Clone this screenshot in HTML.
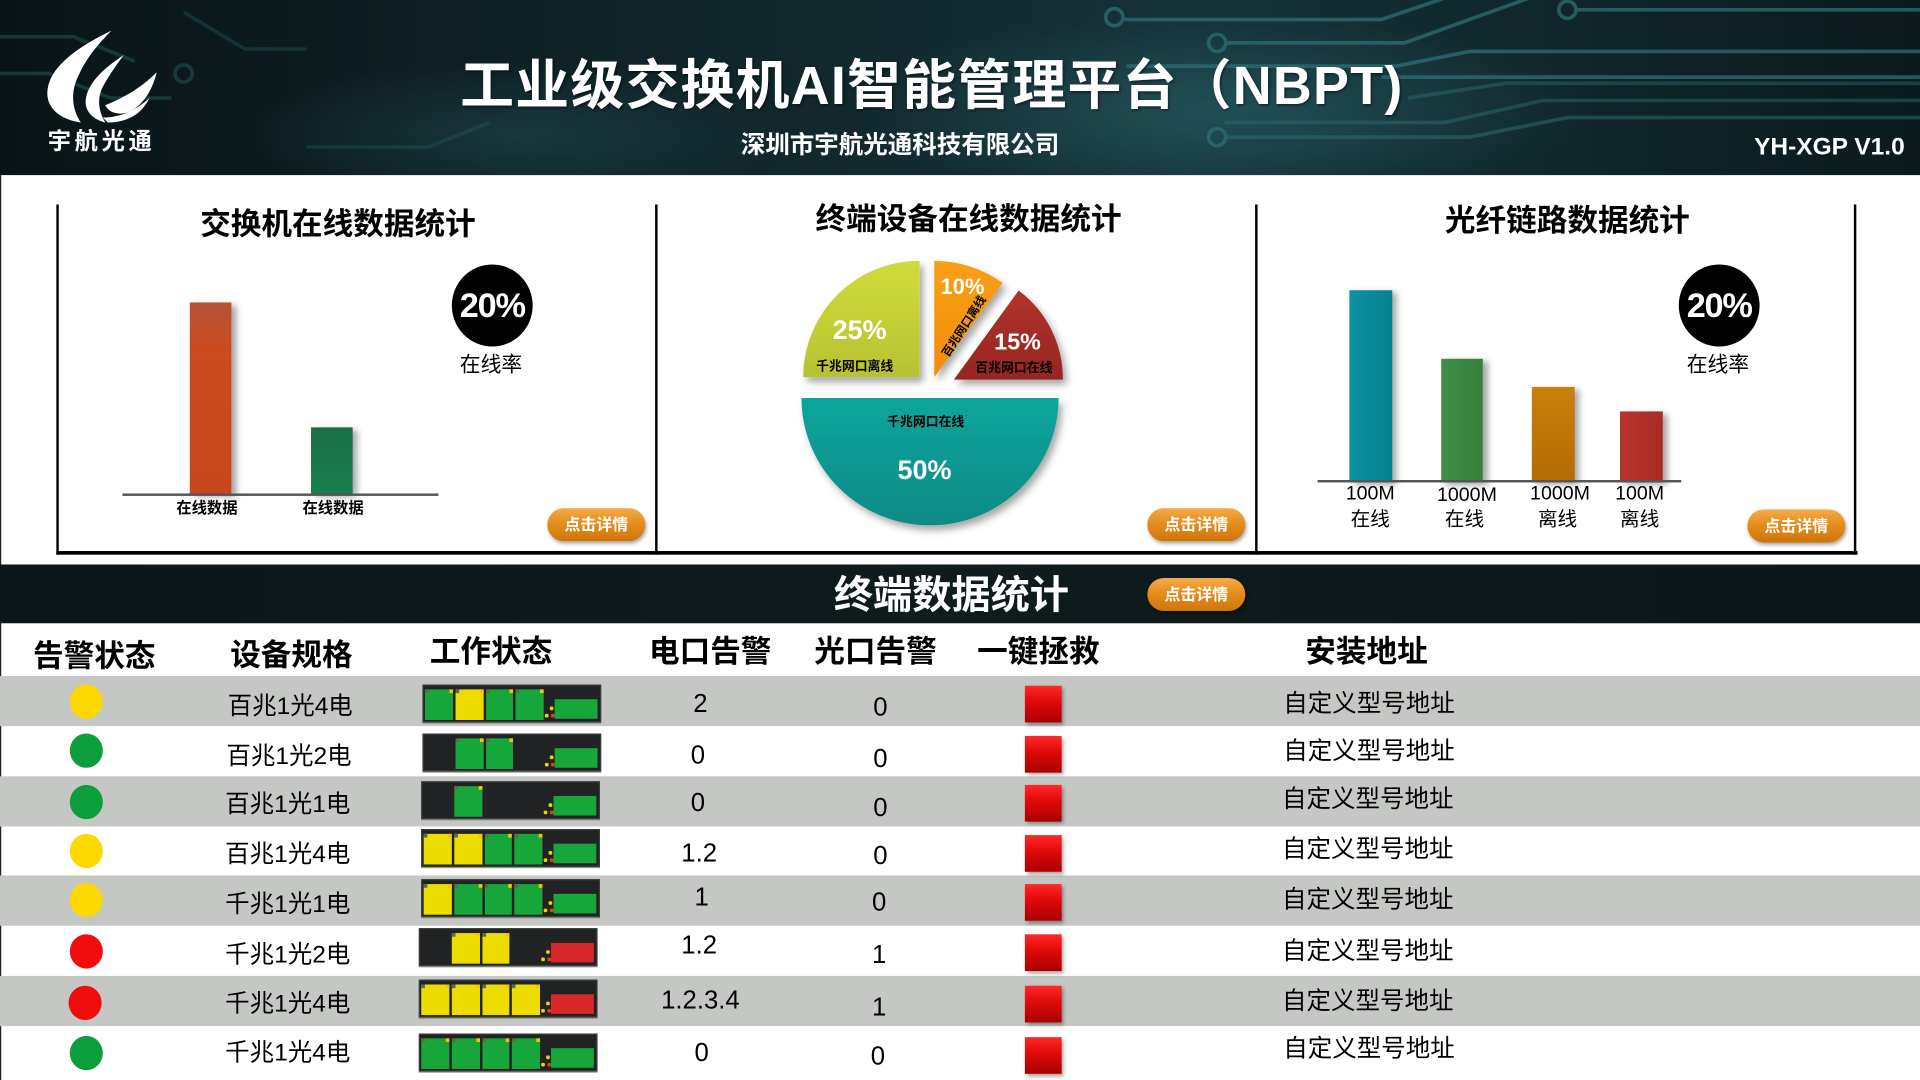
<!DOCTYPE html>
<html><head><meta charset="utf-8">
<style>
html,body{margin:0;padding:0;width:1920px;height:1080px;overflow:hidden;background:#fff;}
#s{position:absolute;left:0;top:0;width:1568px;height:882px;transform:scale(1.2244898);transform-origin:0 0;font-family:"Liberation Sans","Noto Sans CJK SC",sans-serif;overflow:hidden;background:#fff;}
.a{position:absolute;}
.t{position:absolute;white-space:nowrap;transform:translate(-50%,-50%);line-height:1;}
.b{font-weight:bold;}
.btn{position:absolute;width:80px;height:27px;border-radius:14px;background:linear-gradient(#f3ad4a,#e58d1d 45%,#cf740b);color:#fff;font-weight:bold;font-size:13px;text-align:center;line-height:27px;box-shadow:1px 2px 3px rgba(0,0,0,.35);}
.circ{position:absolute;width:66px;height:67px;border-radius:50%;background:#000;color:#fff;font-weight:bold;font-size:28px;text-align:center;line-height:67px;letter-spacing:-1px;}
.bar{position:absolute;box-shadow:4px 2px 5px rgba(0,0,0,.35);}
.vl{position:absolute;top:167px;width:2.5px;height:286px;background:#000;}
.row{position:absolute;left:0;width:1568px;height:41px;background:#c4c7c3;}
.dot{position:absolute;width:27px;height:28px;border-radius:50%;}
.sw{position:absolute;width:146px;height:31px;background:#202223;box-shadow:0 1px 0 #8d8f8d,inset 0 0 0 1px #3b3d3d;}
.p{position:absolute;top:4px;width:22.6px;height:25px;}
.p::after{content:"";position:absolute;right:0;top:0;width:3px;height:3px;background:#f7c300;}
.p::before{content:"";position:absolute;left:0;top:0;width:3px;height:3px;background:#5a6a4a;}
.g{background:#17a63a;}
.y{background:#ecdc00;}
.rb{position:absolute;left:108px;top:11.5px;width:35px;height:16px;}
.rbg{background:#17a63a;}
.rbr{background:#d9282a;}
.l1,.l2,.l3{position:absolute;width:3px;height:3px;border-radius:1px;}
.l1{left:104px;top:18px;background:#f5d000;}
.l2{left:100px;top:24px;background:#f5d000;}
.l3{left:105px;top:24px;background:#e0401a;}
.rs{position:absolute;left:837px;width:30px;height:30px;background:linear-gradient(#ff2a2a,#e30b0b 40%,#a80000);box-shadow:2px 2px 3px rgba(0,0,0,.35);}
.sp{font-size:20px;}
.num{font-size:21px;}
.hd{font-size:25px;font-weight:bold;}
</style></head>
<body>
<div id="s">
<!-- HEADER -->
<div class="a" style="left:0;top:0;width:1568px;height:143px;background:linear-gradient(90deg,#0a1417 0%,#0e1f23 25%,#12292e 45%,#143238 62%,#10272b 80%,#0b1a1d 100%);overflow:hidden;">
<svg width="1568" height="143" viewBox="0 0 1568 143" style="position:absolute;left:0;top:0">
<defs>
<radialGradient id="gl" cx="0.5" cy="0.5" r="0.5"><stop offset="0" stop-color="#2b6a70" stop-opacity=".55"/><stop offset="1" stop-color="#2b6a70" stop-opacity="0"/></radialGradient>
</defs>
<ellipse cx="1000" cy="90" rx="300" ry="80" fill="url(#gl)"/>
<ellipse cx="420" cy="110" rx="220" ry="60" fill="url(#gl)" opacity=".6"/>
<g fill="none" stroke="#2e6f75" stroke-width="3" opacity=".75">
<circle cx="910" cy="14" r="7"/><path d="M918,16 L1128,16 L1181,-2"/>
<circle cx="994" cy="35" r="7"/><path d="M1002,35 L1147,35 L1250,-2"/>
<circle cx="1280" cy="8" r="7"/><path d="M1288,8 L1568,8"/>
<path d="M920,54 L1140,54 L1200,42 L1568,42"/>
<path d="M1128,63 L1568,63"/>
<path d="M1150,80 L1230,68 L1568,68" opacity=".6"/>
<path d="M1000,100 L1180,100 L1260,82 L1568,82" opacity=".6"/>
<circle cx="994" cy="112" r="7"/><path d="M1002,112 L1200,112 L1280,96 L1568,96" opacity=".7"/>
<path d="M0,30 L60,30 L110,50" opacity=".5"/>
<path d="M0,60 L40,60 L90,80 L140,80" opacity=".5"/>
<circle cx="150" cy="60" r="7" opacity=".5"/>
<path d="M150,10 L200,40 L250,40" opacity=".4"/>
<path d="M250,120 L350,120 L400,100" opacity=".35"/>
</g>
</svg>
<!-- logo -->
<svg width="140" height="110" viewBox="0 0 140 110" style="position:absolute;left:0;top:0">
<g fill="#fff">
<path d="M91,25 C60,40 36,58 39,80 C41,91 52,98 66,100 C58,88 58,74 64,62 C70,48 80,36 91,25 Z"/>
<path d="M101,45 C84,56 69,70 70,85 C71,93 78,98 86,100 C80,90 79,79 85,69 C90,60 96,52 101,45 Z"/>
<path d="M128,59 C114,73 100,80 86,86 C89,92 96,94 104,92 C116,87 124,75 128,59 Z"/>
<path d="M122,80 C110,91 97,96 84,96 L88,100 C104,100 116,93 122,80 Z"/>
</g>
</svg>
<div class="t b" style="left:83px;top:116px;font-size:19px;color:#fff;letter-spacing:3px;">宇航光通</div>
<div class="t b" style="left:761px;top:71px;font-size:44px;color:#fff;letter-spacing:1px;text-shadow:1px 1px 2px rgba(0,0,0,.5);">工业级交换机AI智能管理平台（NBPT)</div>
<div class="t b" style="left:735px;top:119px;font-size:20px;color:#fff;">深圳市宇航光通科技有限公司</div>
<div class="t b" style="left:1494px;top:120px;font-size:20px;color:#fff;">YH-XGP V1.0</div>
</div>

<div class="a" style="left:0;top:143px;width:1px;height:739px;background:#222;"></div>

<!-- PANELS -->
<div class="vl" style="left:45.5px"></div>
<div class="vl" style="left:534.5px"></div>
<div class="vl" style="left:1024.5px"></div>
<div class="vl" style="left:1513.5px"></div>
<div class="a" style="left:45.5px;top:450px;width:1471px;height:3px;background:#000;"></div>

<!-- panel 1 -->
<div class="t b" style="left:276px;top:184px;font-size:25px;">交换机在线数据统计</div>
<div class="bar" style="left:155px;top:247px;width:34px;height:157px;background:linear-gradient(#b5533a,#cb4a1e 25%,#c8461c);"></div>
<div class="bar" style="left:254px;top:349px;width:34px;height:55px;background:linear-gradient(#1b6e46,#167f4e);"></div>
<div class="a" style="left:100px;top:403px;width:258px;height:2px;background:#555;"></div>
<div class="t b" style="left:169px;top:415px;font-size:12.5px;">在线数据</div>
<div class="t b" style="left:272px;top:415px;font-size:12.5px;">在线数据</div>
<div class="circ" style="left:369px;top:216px;">20%</div>
<div class="t" style="left:401px;top:298px;font-size:17px;">在线率</div>
<div class="btn" style="left:447px;top:415px;">点击详情</div>

<!-- panel 2 -->
<div class="t b" style="left:791px;top:180px;font-size:25px;">终端设备在线数据统计</div>
<svg width="260" height="250" viewBox="630 200 260 250" style="position:absolute;left:630px;top:200px">
<defs>
<filter id="sh" x="-20%" y="-20%" width="140%" height="140%"><feDropShadow dx="3" dy="4" stdDeviation="3" flood-color="#000" flood-opacity=".35"/></filter>
<linearGradient id="c25" x1="0" y1="0" x2="0" y2="1"><stop offset="0" stop-color="#cfdc3a"/><stop offset="1" stop-color="#b7c232"/></linearGradient>
<linearGradient id="c10" x1="0" y1="0" x2="0" y2="1"><stop offset="0" stop-color="#f8a014"/><stop offset="1" stop-color="#f08c0a"/></linearGradient>
<linearGradient id="c15" x1="0" y1="0" x2="0" y2="1"><stop offset="0" stop-color="#b0322a"/><stop offset="1" stop-color="#962621"/></linearGradient>
<linearGradient id="c50" x1="0" y1="0" x2="0" y2="1"><stop offset="0" stop-color="#0aa59d"/><stop offset="1" stop-color="#078a84"/></linearGradient>
</defs>
<g filter="url(#sh)">
<path d="M751,308 L656,308 A95,95 0 0,1 751,213 Z" fill="url(#c25)"/>
<path d="M763,308 L763,213 A95,95 0 0,1 818.8,231.1 Z" fill="url(#c10)"/>
<path d="M779,310 L831.9,237.2 A90,90 0 0,1 868,310 Z" fill="url(#c15)"/>
<path d="M654.5,325 L864.5,325 A105,104 0 0,1 654.5,325 Z" fill="url(#c50)"/>
</g>
</svg>
<div class="t b" style="left:702px;top:270px;font-size:22px;color:#fff;">25%</div>
<div class="t b" style="left:698px;top:300px;font-size:10.5px;">千兆网口离线</div>
<div class="t b" style="left:786px;top:234px;font-size:18px;color:#fff;">10%</div>
<div class="t b" style="left:788px;top:267px;font-size:9.5px;transform:translate(-50%,-50%) rotate(-57deg);">百兆网口离线</div>
<div class="t b" style="left:831px;top:280px;font-size:19px;color:#fff;">15%</div>
<div class="t b" style="left:828px;top:301px;font-size:10.5px;">百兆网口在线</div>
<div class="t b" style="left:756px;top:345px;font-size:10.5px;">千兆网口在线</div>
<div class="t b" style="left:755px;top:384px;font-size:22px;color:#fff;">50%</div>
<div class="btn" style="left:937px;top:415px;">点击详情</div>

<!-- panel 3 -->
<div class="t b" style="left:1280px;top:181px;font-size:25px;">光纤链路数据统计</div>
<div class="bar" style="left:1102px;top:237px;width:35px;height:157px;background:linear-gradient(90deg,#0a92a4,#07808f);"></div>
<div class="bar" style="left:1177px;top:293px;width:34px;height:101px;background:linear-gradient(90deg,#3f8e46,#36803d);"></div>
<div class="bar" style="left:1251px;top:316px;width:35px;height:78px;background:linear-gradient(#c97f0a,#b26c05);"></div>
<div class="bar" style="left:1323px;top:336px;width:35px;height:58px;background:linear-gradient(90deg,#b8352c,#a82b25);"></div>
<div class="a" style="left:1076px;top:392px;width:297px;height:2px;background:#555;"></div>
<div class="t" style="left:1119px;top:404px;font-size:16px;">100M</div>
<div class="t" style="left:1119px;top:425px;font-size:16px;">在线</div>
<div class="t" style="left:1198px;top:405px;font-size:16px;">1000M</div>
<div class="t" style="left:1196px;top:425px;font-size:16px;">在线</div>
<div class="t" style="left:1274px;top:404px;font-size:16px;">1000M</div>
<div class="t" style="left:1272px;top:425px;font-size:16px;">离线</div>
<div class="t" style="left:1339px;top:404px;font-size:16px;">100M</div>
<div class="t" style="left:1339px;top:425px;font-size:16px;">离线</div>
<div class="circ" style="left:1371px;top:216px;">20%</div>
<div class="t" style="left:1403px;top:298px;font-size:17px;">在线率</div>
<div class="btn" style="left:1427px;top:416px;">点击详情</div>

<!-- TABLE BAND -->
<div class="a" style="left:0;top:461px;width:1568px;height:48px;background:linear-gradient(90deg,#0c1618,#0f1b1d 50%,#0c1618);"></div>
<div class="t b" style="left:777px;top:486px;font-size:32px;color:#fff;">终端数据统计</div>
<div class="btn" style="left:937px;top:472px;">点击详情</div>

<!-- column headers -->
<div class="t hd" style="left:77px;top:537px;">告警状态</div>
<div class="t hd" style="left:238px;top:536px;">设备规格</div>
<div class="t hd" style="left:401px;top:533px;">工作状态</div>
<div class="t hd" style="left:580px;top:533px;">电口告警</div>
<div class="t hd" style="left:715px;top:533px;">光口告警</div>
<div class="t hd" style="left:848px;top:533px;">一键拯救</div>
<div class="t hd" style="left:1116px;top:533px;">安装地址</div>

<!-- rows backgrounds -->
<div class="row" style="top:552px;"></div>
<div class="row" style="top:634px;"></div>
<div class="row" style="top:715px;"></div>
<div class="row" style="top:797px;"></div>

<!-- row 1 -->
<div class="dot" style="left:57px;top:559px;background:#fdd900;"></div>
<div class="t sp" style="left:237px;top:577px;">百兆1光4电</div>
<div class="sw" style="left:345px;top:559px;"><i class="p g" style="left:2.4px"></i><i class="p y" style="left:27.2px"></i><i class="p g" style="left:51.5px"></i><i class="p g" style="left:76.2px"></i><i class="l1"></i><i class="l2"></i><i class="l3"></i><i class="rb rbg"></i></div>
<div class="t num" style="left:572px;top:575px;">2</div>
<div class="t num" style="left:719px;top:578px;">0</div>
<div class="rs" style="top:560px;"></div>
<div class="t sp" style="left:1118px;top:575px;">自定义型号地址</div>

<!-- row 2 -->
<div class="dot" style="left:57px;top:599px;background:#0c9e3a;"></div>
<div class="t sp" style="left:236px;top:618px;">百兆1光2电</div>
<div class="sw" style="left:345px;top:599px;"><i class="p g" style="left:27.2px"></i><i class="p g" style="left:51.5px"></i><i class="l1"></i><i class="l2"></i><i class="l3"></i><i class="rb rbg"></i></div>
<div class="t num" style="left:570px;top:617px;">0</div>
<div class="t num" style="left:719px;top:620px;">0</div>
<div class="rs" style="top:601px;"></div>
<div class="t sp" style="left:1118px;top:614px;">自定义型号地址</div>

<!-- row 3 -->
<div class="dot" style="left:57px;top:641px;background:#0c9e3a;"></div>
<div class="t sp" style="left:235px;top:657px;">百兆1光1电</div>
<div class="sw" style="left:344px;top:638px;"><i class="p g" style="left:27.2px"></i><i class="l1"></i><i class="l2"></i><i class="l3"></i><i class="rb rbg"></i></div>
<div class="t num" style="left:570px;top:656px;">0</div>
<div class="t num" style="left:719px;top:660px;">0</div>
<div class="rs" style="top:641px;"></div>
<div class="t sp" style="left:1117px;top:653px;">自定义型号地址</div>

<!-- row 4 -->
<div class="dot" style="left:57px;top:681px;background:#fdd900;"></div>
<div class="t sp" style="left:235px;top:698px;">百兆1光4电</div>
<div class="sw" style="left:344px;top:677px;"><i class="p y" style="left:2.4px"></i><i class="p y" style="left:27.2px"></i><i class="p g" style="left:51.5px"></i><i class="p g" style="left:76.2px"></i><i class="l1"></i><i class="l2"></i><i class="l3"></i><i class="rb rbg"></i></div>
<div class="t num" style="left:571px;top:697px;">1.2</div>
<div class="t num" style="left:719px;top:699px;">0</div>
<div class="rs" style="top:682px;"></div>
<div class="t sp" style="left:1117px;top:694px;">自定义型号地址</div>

<!-- row 5 -->
<div class="dot" style="left:57px;top:721px;background:#fdd900;"></div>
<div class="t sp" style="left:235px;top:739px;">千兆1光1电</div>
<div class="sw" style="left:344px;top:718px;"><i class="p y" style="left:2.4px"></i><i class="p g" style="left:27.2px"></i><i class="p g" style="left:51.5px"></i><i class="p g" style="left:76.2px"></i><i class="l1"></i><i class="l2"></i><i class="l3"></i><i class="rb rbg"></i></div>
<div class="t num" style="left:573px;top:733px;">1</div>
<div class="t num" style="left:718px;top:737px;">0</div>
<div class="rs" style="top:722px;"></div>
<div class="t sp" style="left:1117px;top:735px;">自定义型号地址</div>

<!-- row 6 -->
<div class="dot" style="left:57px;top:763px;background:#f20c0c;"></div>
<div class="t sp" style="left:235px;top:780px;">千兆1光2电</div>
<div class="sw" style="left:342px;top:758px;"><i class="p y" style="left:27.2px"></i><i class="p y" style="left:51.5px"></i><i class="l1"></i><i class="l2"></i><i class="l3"></i><i class="rb rbr"></i></div>
<div class="t num" style="left:571px;top:772px;">1.2</div>
<div class="t num" style="left:718px;top:780px;">1</div>
<div class="rs" style="top:763px;"></div>
<div class="t sp" style="left:1117px;top:777px;">自定义型号地址</div>

<!-- row 7 -->
<div class="dot" style="left:56px;top:805px;background:#f20c0c;"></div>
<div class="t sp" style="left:235px;top:820px;">千兆1光4电</div>
<div class="sw" style="left:342px;top:800px;"><i class="p y" style="left:2.4px"></i><i class="p y" style="left:27.2px"></i><i class="p y" style="left:51.5px"></i><i class="p y" style="left:76.2px"></i><i class="l1"></i><i class="l2"></i><i class="l3"></i><i class="rb rbr"></i></div>
<div class="t num" style="left:572px;top:817px;">1.2.3.4</div>
<div class="t num" style="left:718px;top:823px;">1</div>
<div class="rs" style="top:805px;"></div>
<div class="t sp" style="left:1117px;top:818px;">自定义型号地址</div>

<!-- row 8 -->
<div class="dot" style="left:57px;top:846px;background:#0c9e3a;"></div>
<div class="t sp" style="left:235px;top:860px;">千兆1光4电</div>
<div class="sw" style="left:342px;top:844px;"><i class="p g" style="left:2.4px"></i><i class="p g" style="left:27.2px"></i><i class="p g" style="left:51.5px"></i><i class="p g" style="left:76.2px"></i><i class="l1"></i><i class="l2"></i><i class="l3"></i><i class="rb rbg"></i></div>
<div class="t num" style="left:573px;top:860px;">0</div>
<div class="t num" style="left:717px;top:863px;">0</div>
<div class="rs" style="top:847px;"></div>
<div class="t sp" style="left:1118px;top:857px;">自定义型号地址</div>

</div>
</body></html>
